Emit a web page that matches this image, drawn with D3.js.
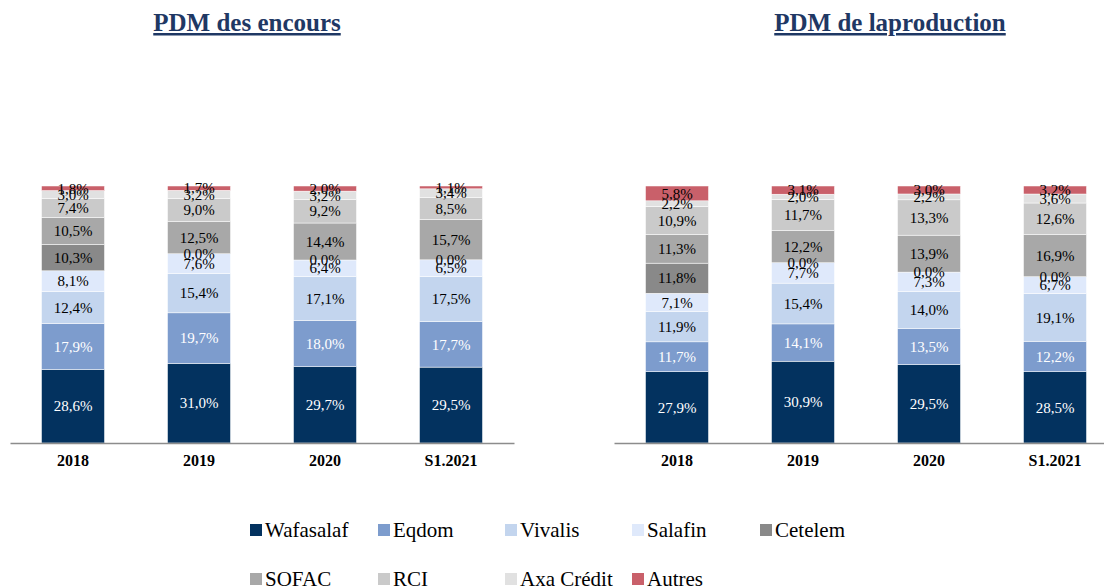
<!DOCTYPE html>
<html>
<head>
<meta charset="utf-8">
<script src="https://cdn.jsdelivr.net/npm/d3@7"></script>
<style>
  body { margin: 0; background: #fff; }
  svg { display: block; }
  text { font-family: "Liberation Serif", "Times New Roman", serif; }
</style>
</head>
<body>
<div id="chart"></div>
<script>
// Categories and series (bottom to top)
const years = ["2018", "2019", "2020", "S1.2021"];
const series = ["Wafasalaf", "Eqdom", "Vivalis", "Salafin", "Cetelem", "SOFAC", "RCI", "Axa Crédit", "Autres"];
const colors = ["#03325f", "#7d9ccd", "#c3d5ee", "#dfe9fb", "#898989", "#a8a8a8", "#cacaca", "#e1e1e1", "#c9606a"];
const labelColors = ["#fff", "#fff", "#000", "#000", "#000", "#000", "#000", "#000", "#000"];

// PDM des encours, one array per year, in series order
const encours2018 = [28.6, 17.9, 12.4, 8.1, 10.3, 10.5, 7.4, 3.0, 1.8];
const encours2019 = [31.0, 19.7, 15.4, 7.6, 0.0, 12.5, 9.0, 3.2, 1.7];
const encours2020 = [29.7, 18.0, 17.1, 6.4, 0.0, 14.4, 9.2, 3.2, 2.0];
const encoursS1 = [29.5, 17.7, 17.5, 6.5, 0.0, 15.7, 8.5, 3.4, 1.1];

// PDM de la production
const prod2018 = [27.9, 11.7, 11.9, 7.1, 11.8, 11.3, 10.9, 2.2, 5.8];
const prod2019 = [30.9, 14.1, 15.4, 7.7, 0.0, 12.2, 11.7, 2.0, 3.1];
const prod2020 = [29.5, 13.5, 14.0, 7.3, 0.0, 13.9, 13.3, 2.2, 3.0];
const prodS1 = [28.5, 12.2, 19.1, 6.7, 0.0, 16.9, 12.6, 3.6, 3.2];

const W = 1104, H = 588;
const serif = "'Liberation Serif', 'Times New Roman', serif";
const svg = d3.select("#chart").append("svg")
    .attr("width", W)
    .attr("height", H);

const fmt = v => v.toFixed(1).replace(".", ",") + "%";

function toRows(arrays) {
    return years.map((y, i) => {
        const row = { year: y };
        series.forEach((s, j) => row[s] = arrays[i][j]);
        return row;
    });
}

function drawPanel(rows, x0, title, titleX) {
    const x = d3.scaleBand()
        .domain(years)
        .range([x0, x0 + 504])
        .paddingInner(0.5)
        .paddingOuter(0.25);
    const y = d3.scaleLinear()
        .domain([0, 1])
        .range([443, 186]);

    const stack = d3.stack()
        .keys(series)
        .offset(d3.stackOffsetExpand);
    const layers = stack(rows);

    const g = svg.append("g");

    // bars
    g.selectAll("g.layer")
        .data(layers)
        .join("g")
        .attr("class", "layer")
        .attr("fill", (d, i) => colors[i])
        .selectAll("rect")
        .data(d => d)
        .join("rect")
        .attr("x", d => x(d.data.year))
        .attr("y", d => y(d[1]))
        .attr("width", x.bandwidth())
        .attr("height", d => y(d[0]) - y(d[1]))
        .attr("stroke", "#fff")
        .attr("stroke-width", 0.5);

    // value labels
    layers.forEach((layer, i) => {
        g.selectAll(null)
            .data(layer)
            .join("text")
            .attr("x", d => x(d.data.year) + x.bandwidth() / 2)
            .attr("y", d => y((d[0] + d[1]) / 2))
            .attr("dy", "0.35em")
            .attr("text-anchor", "middle")
            .attr("font-family", serif)
            .attr("font-size", 15)
            .attr("fill", labelColors[i])
            .text(d => fmt(d.data[layer.key]));
    });

    // x axis
    const axis = g.append("g")
        .attr("transform", "translate(0,443)")
        .call(d3.axisBottom(x).tickSize(0).tickPadding(12));
    axis.select(".domain").attr("stroke", "#8c8c8c").attr("stroke-width", 1.5);
    axis.selectAll(".tick text")
        .attr("font-family", serif)
        .attr("font-size", 16)
        .attr("font-weight", "bold")
        .attr("fill", "#000");

    // title
    svg.append("text")
        .attr("x", titleX)
        .attr("y", 31)
        .attr("text-anchor", "middle")
        .attr("font-family", serif)
        .attr("font-size", 25)
        .attr("font-weight", "bold")
        .attr("fill", "#1f3864")
        .attr("text-decoration", "underline")
        .text(title);
}

drawPanel(toRows([encours2018, encours2019, encours2020, encoursS1]), 10, "PDM des encours", 247);
drawPanel(toRows([prod2018, prod2019, prod2020, prodS1]), 614, "PDM de laproduction", 890);

// legend
const legendX = [250, 378, 505, 632, 760];
const legend = svg.append("g");
series.forEach((s, i) => {
    const row = Math.floor(i / 5);
    const lx = legendX[i % 5];
    const ly = 530 + row * 49;
    legend.append("rect")
        .attr("x", lx)
        .attr("y", ly - 6)
        .attr("width", 12)
        .attr("height", 12)
        .attr("fill", colors[i]);
    legend.append("text")
        .attr("x", lx + 15)
        .attr("y", ly)
        .attr("dy", "0.35em")
        .attr("font-family", serif)
        .attr("font-size", 21)
        .attr("fill", "#000")
        .text(s);
});
</script>
</body>
</html>
